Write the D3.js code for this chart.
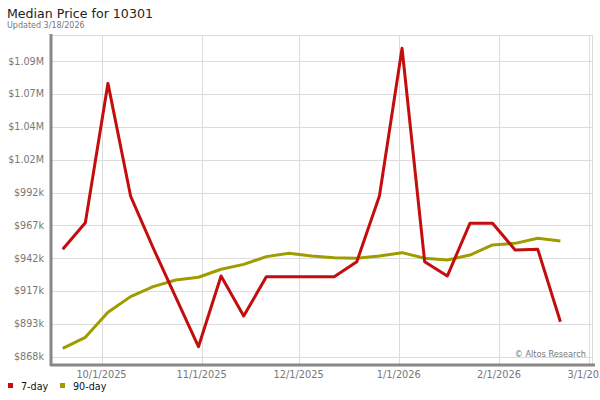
<!DOCTYPE html>
<html lang="en">
<head>
<meta charset="UTF-8">
<title>Median Price for 10301</title>
<script src="https://d3js.org/d3.v7.min.js"></script>
<style>
  body { margin: 0; background: #fff; }
  svg { display: block; font-family: "DejaVu Sans", sans-serif; }
</style>
</head>
<body>
<svg width="600" height="400"></svg>
<script>
// weekly dates
const dates = ["2025-09-19","2025-09-26","2025-10-03","2025-10-10","2025-10-17","2025-10-24",
  "2025-10-31","2025-11-07","2025-11-14","2025-11-21","2025-11-28","2025-12-05","2025-12-12",
  "2025-12-19","2025-12-26","2026-01-02","2026-01-09","2026-01-16","2026-01-23","2026-01-30",
  "2026-02-06","2026-02-13","2026-02-20"];

const day7 = [948800, 968800, 1073700, 988900, 949800, 912700, 875500, 928700, 898600, 928200,
  928200, 928200, 928200, 939500, 988900, 1100100, 939500, 928700, 968400, 968400,
  948300, 948800, 894300];

const day90 = [874300, 882600, 901400, 913200, 920700, 925700, 927800, 933800, 937500, 943300,
  945800, 943800, 942500, 942100, 943800, 946300, 942100, 940800, 944500, 952100,
  953300, 957100, 955100];

const yTicks = [868000, 892700, 917400, 942100, 966800, 991500, 1016200, 1040900, 1065600, 1090300];
const yTickLabels = ["$868k","$893k","$917k","$942k","$967k","$992k","$1.02M","$1.04M","$1.07M","$1.09M"];
const xTicks = ["2025-10-01","2025-11-01","2025-12-01","2026-01-01","2026-02-01","2026-03-01"];
const xTickLabels = ["10/1/2025","11/1/2025","12/1/2025","1/1/2026","2/1/2026","3/1/2026"];

const seriesNames = ["7-day", "90-day"];
const colors = ["#c40d0d", "#a09c00"];

const parse = d3.timeParse("%Y-%m-%d");
const svg = d3.select("svg");

const plotL = 51, plotR = 592, plotT = 35, plotB = 365;

const x = d3.scaleTime()
  .domain([parse("2025-10-01"), parse("2026-02-01")])
  .range([101.5, 499]);
const y = d3.scaleLinear()
  .domain([868000, 1090300])
  .range([356.7, 61.3]);

// title
svg.append("text").attr("x", 7).attr("y", 18)
  .attr("font-size", 12.6).attr("fill", "#222").text("Median Price for 10301");
svg.append("text").attr("x", 7).attr("y", 27.5)
  .attr("font-size", 8).attr("fill", "#777").text("Updated 3/18/2026");

// grid
const grid = svg.append("g").attr("stroke", "#dcdcdc").attr("stroke-width", 1).attr("fill", "none");
grid.selectAll(".hg").data(yTicks).enter().append("line")
  .attr("x1", plotL).attr("x2", plotR)
  .attr("y1", d => Math.round(y(d)) + 0.5).attr("y2", d => Math.round(y(d)) + 0.5);
grid.selectAll(".vg").data(xTicks).enter().append("line")
  .attr("y1", plotT).attr("y2", plotB)
  .attr("x1", d => Math.round(x(parse(d))) + 0.5).attr("x2", d => Math.round(x(parse(d))) + 0.5);
grid.append("line").attr("x1", plotL).attr("x2", plotR).attr("y1", plotT + 0.5).attr("y2", plotT + 0.5);
grid.append("line").attr("x1", plotR + 0.5).attr("x2", plotR + 0.5).attr("y1", plotT).attr("y2", plotB);

// y labels
svg.append("g").selectAll("text").data(yTicks).enter().append("text")
  .attr("x", 44).attr("y", d => y(d)).attr("dy", "0.35em")
  .attr("text-anchor", "end").attr("font-size", 9.6).attr("fill", "#777")
  .text((d, i) => yTickLabels[i]);

// x labels
svg.append("g").selectAll("text").data(xTicks).enter().append("text")
  .attr("x", d => x(parse(d))).attr("y", 377.5)
  .attr("text-anchor", "middle").attr("font-size", 9.8).attr("fill", "#777")
  .text((d, i) => xTickLabels[i]);

// axes lines
svg.append("line").attr("x1", plotL).attr("x2", plotL).attr("y1", plotT - 1).attr("y2", plotB + 1)
  .attr("stroke", "#888").attr("stroke-width", 3);
svg.append("line").attr("x1", plotL - 1).attr("x2", 595).attr("y1", plotB).attr("y2", plotB)
  .attr("stroke", "#888").attr("stroke-width", 3);

// copyright
svg.append("text").attr("x", 586).attr("y", 357).attr("text-anchor", "end")
  .attr("font-size", 8.2).attr("fill", "#777").text("\u00a9 Altos Research");

// lines
const line = d3.line().x((d, i) => x(parse(dates[i]))).y(d => y(d));
[day90, day7].forEach((s, k) => {
  svg.append("path").datum(s)
    .attr("fill", "none")
    .attr("stroke", k === 0 ? colors[1] : colors[0])
    .attr("stroke-width", 3)
    .attr("stroke-linejoin", "round")
    .attr("d", line);
});

// legend
const legendX = [8, 60];
const lg = svg.append("g").selectAll("g").data(seriesNames).enter().append("g")
  .attr("transform", (d, i) => `translate(${legendX[i]}, 383)`);
lg.append("rect").attr("width", 5).attr("height", 5).attr("fill", (d, i) => colors[i]);
lg.append("text").attr("x", 13).attr("y", 6.5).attr("font-size", 9.6).attr("fill", "#111").text(d => d);
</script>
</body>
</html>
